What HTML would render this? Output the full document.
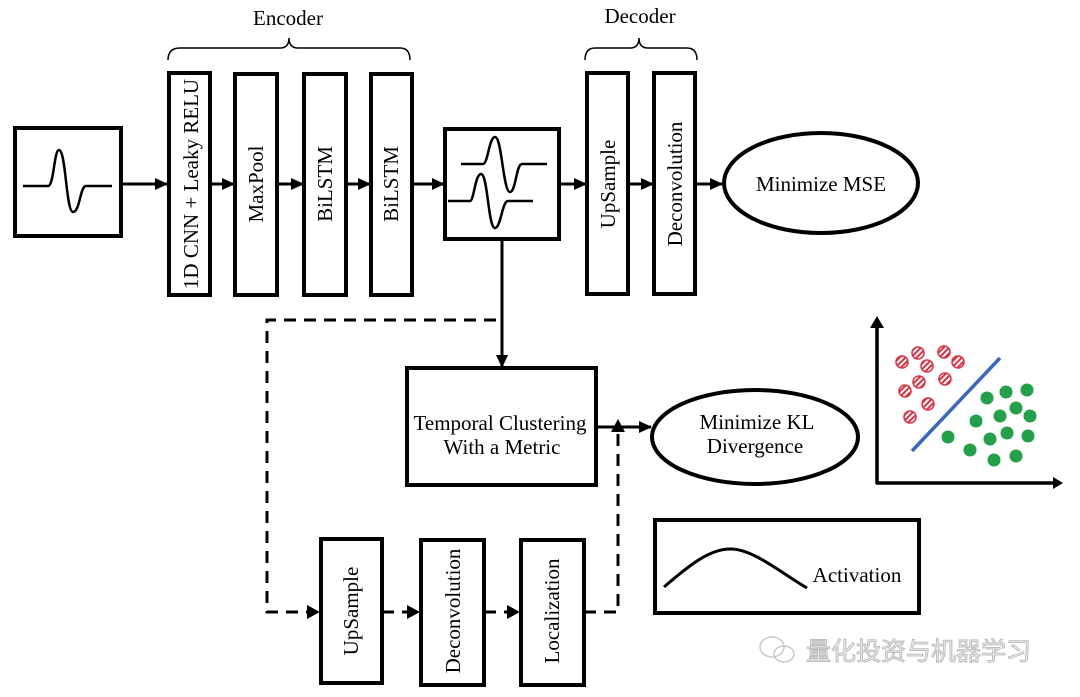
<!DOCTYPE html>
<html><head><meta charset="utf-8"><style>
body{margin:0;background:#fff;}
svg{display:block;font-family:"Liberation Serif",serif;}
</style></head><body>
<svg width="1080" height="697" viewBox="0 0 1080 697" xmlns="http://www.w3.org/2000/svg">
<defs>
<marker id="ah" markerWidth="13" markerHeight="12" refX="12" refY="6" orient="auto" markerUnits="userSpaceOnUse"><path d="M0,0 L13,6 L0,12 z" fill="#000"/></marker>
<pattern id="st" width="4" height="4" patternUnits="userSpaceOnUse" patternTransform="rotate(45)"><rect width="4" height="4" fill="#fff"/><rect width="2" height="4" fill="#e03040"/></pattern>
</defs>
<g fill="none" stroke="#000" stroke-width="4">
<rect x="15" y="128" width="106" height="108"/>
<rect x="169" y="73" width="41" height="222"/>
<rect x="235" y="74" width="42" height="221"/>
<rect x="304" y="74" width="42" height="221"/>
<rect x="371" y="74" width="41" height="221"/>
<rect x="445" y="129" width="114" height="110"/>
<rect x="587" y="73" width="41" height="221"/>
<rect x="654" y="73" width="41" height="221"/>
<ellipse cx="821" cy="183" rx="97" ry="50"/>
<rect x="407" y="368" width="189" height="117"/>
<ellipse cx="755" cy="437" rx="103" ry="47"/>
<rect x="321" y="539" width="61" height="144"/>
<rect x="421" y="540" width="63" height="145"/>
<rect x="521" y="540" width="63" height="145"/>
<rect x="655" y="520" width="264" height="93"/>
</g>
<g stroke="#000" stroke-width="1.5" fill="none">
<path d="M168,60 Q168,48 180,48 L280,48 Q289,48 289,38 Q289,48 298,48 L400,48 Q410,48 410,60"/>
<path d="M585,60 Q585,48 595,48 L630,48 Q639,48 639,38 Q639,48 648,48 L687,48 Q697,48 697,60"/>
</g>
<g stroke="#000" stroke-width="3" fill="none" marker-end="url(#ah)">
<line x1="121" y1="184" x2="167" y2="184"/>
<line x1="210" y1="184" x2="234" y2="184"/>
<line x1="277" y1="184" x2="303" y2="184"/>
<line x1="346" y1="184" x2="370" y2="184"/>
<line x1="412" y1="184" x2="444" y2="184"/>
<line x1="559" y1="184" x2="586" y2="184"/>
<line x1="628" y1="184" x2="653" y2="184"/>
<line x1="695" y1="184" x2="722" y2="184"/>
<line x1="502" y1="239" x2="502" y2="367"/>
<line x1="596" y1="427" x2="651" y2="427"/>
</g>
<g stroke="#000" stroke-width="3" fill="none" stroke-dasharray="12,8">
<path d="M496,320 L267,320 L267,612 L310,612"/>
<line x1="382" y1="612" x2="410" y2="612"/>
<line x1="484" y1="612" x2="510" y2="612"/>
<path d="M584,612 L618,612 L618,432"/>
</g>
<g fill="#000">
<path d="M307,605 L320,612 L307,619z"/><path d="M407,605 L420,612 L407,619z"/><path d="M507,605 L520,612 L507,619z"/>
<path d="M611,432 L618,419 L625,432z"/>
</g>
<g stroke="#000" stroke-width="2.5" fill="none">
<path d="M23,186 L48,186 C54,186 54,150 59,150 C66,150 66,212 73,212 C80,212 80,186 86,186 L112,186"/>
<path d="M461,164 L483,164 C488,164 489,137 495,137 C502,137 503,192 510,192 C516,192 516,164 522,164 L547,164"/>
<path d="M448,201 L470,201 C474,201 475,174 481,174 C488,174 488,228 495,228 C501,228 502,201 508,201 L533,201"/>
<path d="M664,587 C690,565 710,548 732,549 C754,550 780,572 807,588" stroke-width="3"/>
</g>
<g font-size="21" fill="#000" text-anchor="middle">
<text x="288" y="25">Encoder</text>
<text x="640" y="23">Decoder</text>
<text transform="translate(198,184) rotate(-90)">1D CNN + Leaky RELU</text>
<text transform="translate(263,184) rotate(-90)">MaxPool</text>
<text transform="translate(332,184) rotate(-90)">BiLSTM</text>
<text transform="translate(398,184) rotate(-90)">BiLSTM</text>
<text transform="translate(615,184) rotate(-90)">UpSample</text>
<text transform="translate(682,184) rotate(-90)">Deconvolution</text>
<text x="821" y="191">Minimize MSE</text>
<text x="500" y="430">Temporal Clustering</text>
<text x="502" y="454">With a Metric</text>
<text x="757" y="429">Minimize KL</text>
<text x="755" y="453">Divergence</text>
<text transform="translate(358,611) rotate(-90)">UpSample</text>
<text transform="translate(460,611) rotate(-90)">Deconvolution</text>
<text transform="translate(559,611) rotate(-90)">Localization</text>
<text x="857" y="582">Activation</text>
</g>
<g stroke="#000" stroke-width="3.5" fill="none">
<line x1="877" y1="484" x2="877" y2="326"/>
<line x1="876" y1="483" x2="1055" y2="483"/>
</g>
<path d="M870,328 L877,316 L884,328z" fill="#000"/>
<path d="M1053,477 L1063,483 L1053,489z" fill="#000"/>
<line x1="912" y1="451" x2="1000" y2="358" stroke="#3a66c4" stroke-width="3.5"/>
<g fill="url(#st)" stroke="#e03040" stroke-width="1.5">
<circle cx="902" cy="362" r="6"/><circle cx="918" cy="353" r="6"/><circle cx="944" cy="352" r="6"/>
<circle cx="927" cy="366" r="6"/><circle cx="958" cy="362" r="6"/><circle cx="919" cy="382" r="6"/>
<circle cx="945" cy="379" r="6"/><circle cx="905" cy="391" r="6"/><circle cx="928" cy="404" r="6"/>
<circle cx="910" cy="417" r="6"/>
</g>
<g fill="#22a04a">
<circle cx="987" cy="398" r="6.5"/><circle cx="1006" cy="392" r="6.5"/><circle cx="1027" cy="390" r="6.5"/>
<circle cx="1016" cy="408" r="6.5"/><circle cx="1000" cy="416" r="6.5"/><circle cx="1030" cy="416" r="6.5"/>
<circle cx="976" cy="421" r="6.5"/><circle cx="1007" cy="433" r="6.5"/><circle cx="990" cy="439" r="6.5"/>
<circle cx="1028" cy="436" r="6.5"/><circle cx="948" cy="437" r="6.5"/><circle cx="970" cy="450" r="6.5"/>
<circle cx="994" cy="460" r="6.5"/><circle cx="1016" cy="456" r="6.5"/>
</g>
<g fill="none" stroke="#c8c8c8" stroke-width="1.5">
<ellipse cx="772" cy="647" rx="12" ry="10"/><ellipse cx="784" cy="654" rx="10" ry="8"/>
</g>
<text x="806" y="660" font-family="'Liberation Sans','Noto Sans CJK SC',sans-serif" font-size="25" fill="#f2f2f2" stroke="#bdbdbd" stroke-width="1">量化投资与机器学习</text>
</svg>
</body></html>
